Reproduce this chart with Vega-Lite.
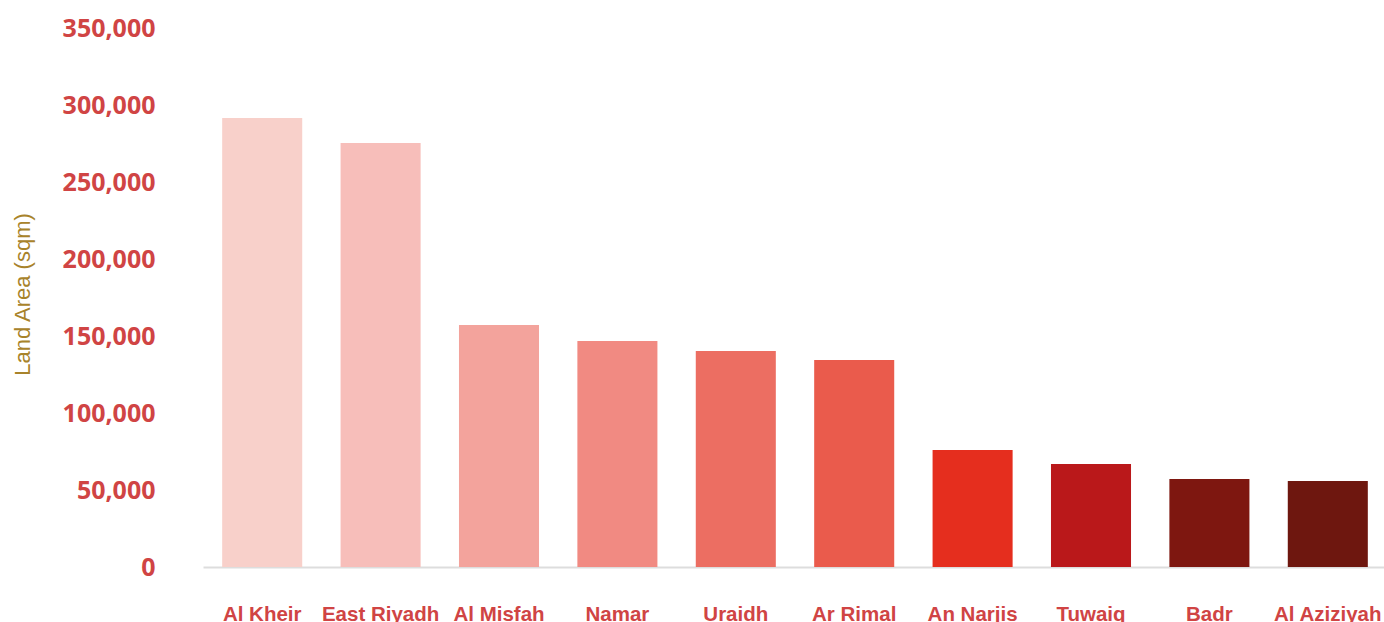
{
  "$schema": "https://vega.github.io/schema/vega-lite/v6.json",
  "width": 1184,
  "height": 539,
  "autosize": {"type": "none"},
  "padding": {"left": 203, "top": 28, "right": 0, "bottom": 55},
  "background": "white",
  "config": {"view": {"stroke": null}},
  "data": {
    "values": [
      {"area": "Al Kheir", "value": 291500, "color": "#F8D0CA"},
      {"area": "East Riyadh", "value": 275300, "color": "#F7BEBA"},
      {"area": "Al Misfah", "value": 157200, "color": "#F3A39C"},
      {"area": "Namar", "value": 146800, "color": "#F18A82"},
      {"area": "Uraidh", "value": 140300, "color": "#EC6E62"},
      {"area": "Ar Rimal", "value": 134400, "color": "#EA5B4C"},
      {"area": "An Narjis", "value": 76000, "color": "#E52E1E"},
      {"area": "Tuwaiq", "value": 66900, "color": "#BA181A"},
      {"area": "Badr", "value": 57100, "color": "#7E1710"},
      {"area": "Al Aziziyah", "value": 55800, "color": "#6E170F"}
    ]
  },
  "mark": {"type": "bar"},
  "encoding": {
    "x": {
      "field": "area",
      "type": "nominal",
      "sort": null,
      "scale": {"paddingInner": 0.324, "paddingOuter": 0.162},
      "axis": {
        "title": null,
        "labelAngle": 0,
        "ticks": false,
        "domainColor": "#DDDDDD",
        "domainWidth": 2,
        "labelFont": "Liberation Sans",
        "labelFontWeight": "bold",
        "labelFontSize": 20.5,
        "labelColor": "#D04444",
        "labelBaseline": "alphabetic",
        "labelPadding": 53
      }
    },
    "y": {
      "field": "value",
      "type": "quantitative",
      "scale": {"domain": [0, 350000], "nice": false},
      "axis": {
        "title": "Land Area (sqm)",
        "values": [0, 50000, 100000, 150000, 200000, 250000, 300000, 350000],
        "format": ",.0f",
        "grid": false,
        "domain": false,
        "ticks": false,
        "labelFont": "Open Sans",
        "labelFontWeight": "bold",
        "labelFontSize": 25,
        "labelColor": "#D04444",
        "labelPadding": 48,
        "labelBaseline": "middle",
        "titleFont": "Liberation Sans",
        "titleFontWeight": "normal",
        "titleFontSize": 22,
        "titleColor": "#A8832B",
        "titleAngle": -90,
        "titleAlign": "center",
        "titleBaseline": "middle",
        "titleX": -181,
        "titleY": 266
      }
    },
    "color": {"field": "color", "type": "nominal", "scale": null, "legend": null}
  }
}
